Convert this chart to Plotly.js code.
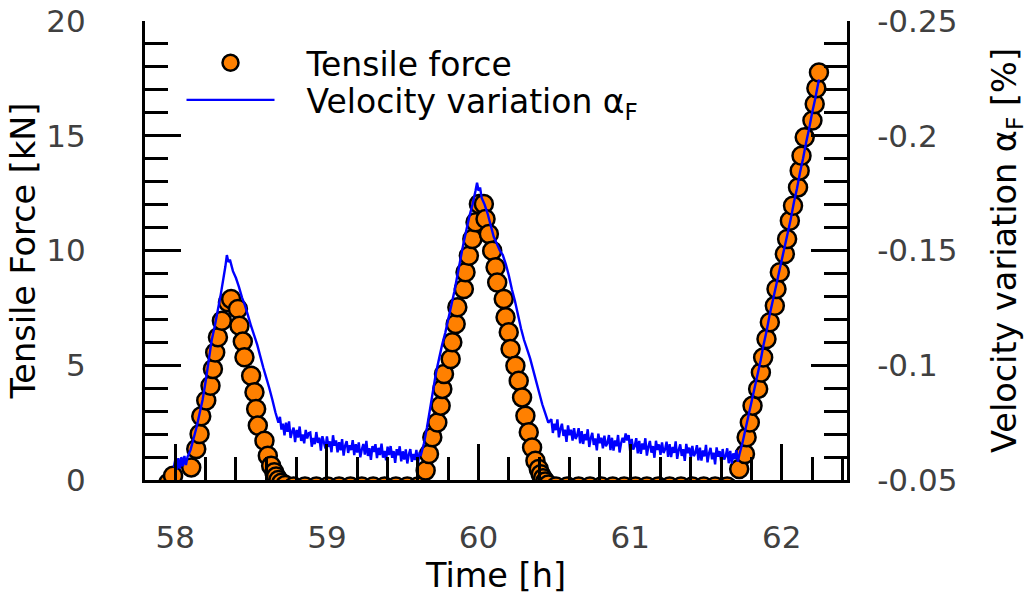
<!DOCTYPE html>
<html>
<head>
<meta charset="utf-8">
<script src="https://cdn.plot.ly/plotly-3.0.1.min.js"></script>
<style>html,body{margin:0;padding:0;background:#fff;}#chart{width:1029px;height:600px;}</style>
</head>
<body>
<div id="chart"></div>
<script>
// Tensile force markers: time [h] and force [kN]
var forceTime = [
  57.955, 57.985,
  58.105, 58.138, 58.160, 58.171, 58.204, 58.232, 58.248, 58.263, 58.281, 58.307, 58.347, 58.368,
  58.413, 58.423, 58.445, 58.456, 58.500, 58.522, 58.533, 58.544, 58.588, 58.610, 58.632, 58.653,
  58.665, 58.680, 58.700, 58.725,
  58.780, 58.855, 58.930, 59.005, 59.080, 59.155, 59.230, 59.305, 59.380, 59.455, 59.530, 59.600,
  59.651, 59.673, 59.695, 59.728, 59.750, 59.761, 59.772, 59.816, 59.827, 59.849, 59.860, 59.903,
  59.914, 59.936, 59.959, 59.980, 60.002, 60.035, 60.046, 60.068, 60.090, 60.112, 60.123, 60.166,
  60.178, 60.199, 60.211, 60.243, 60.265, 60.287, 60.309, 60.331, 60.353, 60.375, 60.397,
  60.410, 60.425, 60.440, 60.460,
  60.510, 60.585, 60.660, 60.735, 60.810, 60.885, 60.960, 61.035, 61.110, 61.185, 61.260, 61.335,
  61.410, 61.485, 61.560, 61.640,
  61.719, 61.757, 61.768, 61.789, 61.807, 61.844, 61.862, 61.877, 61.899, 61.921, 61.954, 61.965,
  61.987, 62.020, 62.035, 62.053, 62.074, 62.107, 62.118, 62.130, 62.151, 62.202, 62.217, 62.228, 62.245
];
var forceValue = [
  -0.12, 0.19,
  0.55, 1.35, 2.00, 2.78, 3.46, 4.11, 4.84, 5.56, 6.22, 6.94, 7.74, 7.89,
  7.45, 6.72, 6.03, 5.35, 4.54, 3.82, 3.09, 2.37, 1.71, 1.06, 0.62, 0.34,
  0.15, 0.00, -0.12, -0.22,
  -0.28, -0.28, -0.28, -0.28, -0.28, -0.28, -0.28, -0.28, -0.28, -0.28, -0.28, -0.28,
  0.41, 1.13, 1.86, 2.51, 3.24, 3.97, 4.62, 5.27, 6.00, 6.80, 7.53, 8.32,
  9.05, 9.77, 10.50, 11.23, 12.03, 12.03, 11.37, 10.72, 9.99, 9.27, 8.61, 7.89,
  7.09, 6.44, 5.71, 4.98, 4.33, 3.60, 2.80, 2.08, 1.42, 0.84, 0.48,
  0.25, 0.08, -0.07, -0.20,
  -0.28, -0.28, -0.28, -0.28, -0.28, -0.28, -0.28, -0.28, -0.28, -0.28, -0.28, -0.28,
  -0.28, -0.28, -0.28, -0.28,
  0.48, 1.13, 1.86, 2.51, 3.24, 3.97, 4.68, 5.34, 6.14, 6.87, 7.59, 8.32,
  9.05, 9.85, 10.50, 11.30, 11.95, 12.75, 13.48, 14.13, 14.93, 15.66, 16.38, 17.07, 17.76
];

// Velocity variation: time [h] and alpha_F [%]
var velTime = [
  57.99, 58.00, 58.01, 58.02, 58.03, 58.04, 58.05, 58.06, 58.07, 58.08,
  58.10, 58.12, 58.14, 58.16, 58.18, 58.20, 58.22, 58.24, 58.26, 58.28, 58.30, 58.32, 58.33, 58.34,
  58.35, 58.36, 58.38, 58.40, 58.42, 58.44, 58.46, 58.48, 58.50, 58.52, 58.54, 58.56, 58.58, 58.60,
  58.62, 58.64, 58.66, 58.68,
  58.69, 58.70, 58.71, 58.72, 58.73, 58.74, 58.75, 58.76, 58.77, 58.78, 58.79, 58.80, 58.81, 58.82,
  58.83, 58.84, 58.85, 58.86, 58.87, 58.88, 58.89, 58.90, 58.91, 58.92, 58.93, 58.94, 58.95, 58.96,
  58.97, 58.98, 58.99, 59.00, 59.01, 59.02, 59.03, 59.04, 59.05, 59.06, 59.07, 59.08, 59.09, 59.10,
  59.11, 59.12, 59.13, 59.14, 59.15, 59.16, 59.17, 59.18, 59.19, 59.20, 59.21, 59.22, 59.23, 59.24,
  59.25, 59.26, 59.27, 59.28, 59.29, 59.30, 59.31, 59.32, 59.33, 59.34, 59.35, 59.36, 59.37, 59.38,
  59.39, 59.40, 59.41, 59.42, 59.43, 59.44, 59.45, 59.46, 59.47, 59.48, 59.49, 59.50, 59.51, 59.52,
  59.53, 59.54, 59.55, 59.56, 59.57, 59.58, 59.59, 59.60, 59.61, 59.62,
  59.64, 59.66, 59.68, 59.70, 59.72, 59.74, 59.76, 59.78, 59.80, 59.82, 59.84, 59.86, 59.88, 59.90,
  59.92, 59.94, 59.96, 59.98, 59.99, 60.00, 60.01, 60.02, 60.04, 60.06, 60.08, 60.10, 60.12, 60.14,
  60.16, 60.18, 60.20, 60.22, 60.24, 60.26, 60.28, 60.30, 60.32, 60.34, 60.36, 60.38, 60.40, 60.42,
  60.44, 60.46,
  60.48, 60.49, 60.50, 60.51, 60.52, 60.53, 60.54, 60.55, 60.56, 60.57, 60.58, 60.59, 60.60, 60.61,
  60.62, 60.63, 60.64, 60.65, 60.66, 60.67, 60.68, 60.69, 60.70, 60.71, 60.72, 60.73, 60.74, 60.75,
  60.76, 60.77, 60.78, 60.79, 60.80, 60.81, 60.82, 60.83, 60.84, 60.85, 60.86, 60.87, 60.88, 60.89,
  60.90, 60.91, 60.92, 60.93, 60.94, 60.95, 60.96, 60.97, 60.98, 60.99, 61.00, 61.01, 61.02, 61.03,
  61.04, 61.05, 61.06, 61.07, 61.08, 61.09, 61.10, 61.11, 61.12, 61.13, 61.14, 61.15, 61.16, 61.17,
  61.18, 61.19, 61.20, 61.21, 61.22, 61.23, 61.24, 61.25, 61.26, 61.27, 61.28, 61.29, 61.30, 61.31,
  61.32, 61.33, 61.34, 61.35, 61.36, 61.37, 61.38, 61.39, 61.40, 61.41, 61.42, 61.43, 61.44, 61.45,
  61.46, 61.47, 61.48, 61.49, 61.50, 61.51, 61.52, 61.53, 61.54, 61.55, 61.56, 61.57, 61.58, 61.59,
  61.60, 61.61, 61.62, 61.63, 61.64, 61.65, 61.66, 61.67, 61.68, 61.69, 61.70, 61.71, 61.72,
  61.74, 61.76, 61.78, 61.80, 61.82, 61.84, 61.86, 61.88, 61.90, 61.92, 61.94, 61.96, 61.98, 62.00,
  62.02, 62.04, 62.06, 62.08, 62.10, 62.12, 62.14, 62.16, 62.18, 62.20, 62.22, 62.245
];
var velValue = [
  -0.0555, -0.0590, -0.0545, -0.0595, -0.0550, -0.0600, -0.0560, -0.0605, -0.0565, -0.0600,
  -0.0630, -0.0680, -0.0730, -0.0790, -0.0850, -0.0930, -0.1020, -0.1110, -0.1170, -0.1240, -0.1310, -0.1390, -0.1430, -0.1480,
  -0.1450, -0.1460, -0.1410, -0.1380, -0.1340, -0.1295, -0.1260, -0.1215, -0.1170, -0.1130, -0.1090, -0.1040, -0.0990, -0.0945,
  -0.0900, -0.0850, -0.0795, -0.0750,
  -0.0775, -0.0720, -0.0745, -0.0695, -0.0750, -0.0710, -0.0755, -0.0683, -0.0710, -0.0728, -0.0665, -0.0718, -0.0685, -0.0733,
  -0.0670, -0.0698, -0.0660, -0.0718, -0.0681, -0.0704, -0.0707, -0.0645, -0.0683, -0.0656, -0.0709, -0.0662, -0.0685, -0.0628,
  -0.0691, -0.0664, -0.0637, -0.0690, -0.0644, -0.0668, -0.0621, -0.0695, -0.0649, -0.0673, -0.0621, -0.0665, -0.0629, -0.0678,
  -0.0606, -0.0650, -0.0669, -0.0618, -0.0651, -0.0630, -0.0674, -0.0608, -0.0656, -0.0620, -0.0664, -0.0599, -0.0633, -0.0657,
  -0.0611, -0.0671, -0.0605, -0.0639, -0.0588, -0.0648, -0.0622, -0.0656, -0.0595, -0.0640, -0.0609, -0.0658, -0.0597, -0.0627,
  -0.0586, -0.0645, -0.0609, -0.0648, -0.0597, -0.0626, -0.0575, -0.0634, -0.0608, -0.0647, -0.0581, -0.0625, -0.0589, -0.0633,
  -0.0572, -0.0611, -0.0635, -0.0579, -0.0613, -0.0587, -0.0631, -0.0570, -0.0615, -0.0610,
  -0.0660, -0.0730, -0.0810, -0.0890, -0.0970, -0.1030, -0.1090, -0.1140, -0.1200, -0.1260, -0.1320, -0.1390, -0.1460, -0.1530,
  -0.1590, -0.1650, -0.1700, -0.1760, -0.1795, -0.1760, -0.1775, -0.1730, -0.1700, -0.1660, -0.1610, -0.1560, -0.1530, -0.1500,
  -0.1480, -0.1440, -0.1390, -0.1330, -0.1280, -0.1220, -0.1160, -0.1110, -0.1070, -0.1030, -0.0980, -0.0930, -0.0880, -0.0830,
  -0.0790, -0.0750,
  -0.0765, -0.0705, -0.0745, -0.0717, -0.0764, -0.0686, -0.0723, -0.0745, -0.0692, -0.0719, -0.0666, -0.0738, -0.0695, -0.0719,
  -0.0672, -0.0726, -0.0679, -0.0693, -0.0726, -0.0660, -0.0713, -0.0657, -0.0700, -0.0673, -0.0721, -0.0644, -0.0682, -0.0705,
  -0.0653, -0.0681, -0.0629, -0.0702, -0.0660, -0.0684, -0.0638, -0.0693, -0.0647, -0.0661, -0.0696, -0.0630, -0.0684, -0.0628,
  -0.0673, -0.0647, -0.0696, -0.0620, -0.0660, -0.0684, -0.0663, -0.0703, -0.0672, -0.0696, -0.0625, -0.0679, -0.0633, -0.0648,
  -0.0682, -0.0616, -0.0670, -0.0614, -0.0659, -0.0633, -0.0682, -0.0606, -0.0645, -0.0670, -0.0619, -0.0648, -0.0597, -0.0671,
  -0.0631, -0.0655, -0.0610, -0.0664, -0.0618, -0.0633, -0.0667, -0.0601, -0.0656, -0.0600, -0.0644, -0.0618, -0.0668, -0.0592,
  -0.0631, -0.0655, -0.0605, -0.0634, -0.0583, -0.0657, -0.0617, -0.0641, -0.0595, -0.0649, -0.0604, -0.0618, -0.0652, -0.0586,
  -0.0641, -0.0585, -0.0629, -0.0603, -0.0653, -0.0577, -0.0616, -0.0640, -0.0590, -0.0619, -0.0568, -0.0642, -0.0602, -0.0626,
  -0.0580, -0.0635, -0.0589, -0.0604, -0.0638, -0.0573, -0.0627, -0.0572, -0.0616, -0.0591, -0.0630, -0.0580, -0.0610,
  -0.0660, -0.0720, -0.0780, -0.0840, -0.0900, -0.0960, -0.1020, -0.1090, -0.1150, -0.1220, -0.1280, -0.1340, -0.1400, -0.1460,
  -0.1520, -0.1580, -0.1640, -0.1710, -0.1770, -0.1840, -0.1900, -0.1970, -0.2030, -0.2100, -0.2160, -0.2245
];

var xTickVals = [58, 59, 60, 61, 62];
var yTickVals = [0, 5, 10, 15, 20];
var y2TickVals = [-0.05, -0.1, -0.15, -0.2, -0.25];
var y2TickText = ['-0.05', '-0.1', '-0.15', '-0.2', '-0.25'];

var GAP = '\u2002\u00a0';
var FONT = 'DejaVu Sans, sans-serif';

var traces = [
  {
    x: forceTime, y: forceValue, type: 'scatter', mode: 'markers',
    name: GAP + 'Tensile force', legend: 'legend',
    marker: {size: 18, color: '#ff8000', line: {color: '#000000', width: 2.5}},
    xaxis: 'x', yaxis: 'y'
  },
  {
    x: velTime, y: velValue, type: 'scatter', mode: 'lines',
    name: GAP + 'Velocity variation α<sub>F</sub>', legend: 'legend2',
    line: {color: '#0000ff', width: 2.4, simplify: false},
    xaxis: 'x', yaxis: 'y2'
  }
];

var axisCommon = {
  showgrid: false, zeroline: false, showline: true, linecolor: '#000', linewidth: 3,
  ticks: 'inside', ticklen: 36, tickwidth: 3, tickcolor: '#000',
  tickfont: {family: FONT, size: 31, color: '#404040'}
};

var legendCommon = {
  xanchor: 'left', yanchor: 'top',
  bgcolor: 'rgba(0,0,0,0)', borderwidth: 0,
  font: {family: FONT, size: 33, color: '#000'},
  itemwidth: 88
};

var layout = {
  width: 1029, height: 600,
  margin: {l: 145, r: 182, t: 21, b: 120, pad: 0},
  paper_bgcolor: '#fff', plot_bgcolor: '#fff',
  font: {family: FONT, size: 30, color: '#000'},
  showlegend: true,
  legend: Object.assign({}, legendCommon, {x: 0.052, y: 0.97}),
  legend2: Object.assign({}, legendCommon, {x: 0.052, y: 0.889}),
  xaxis: Object.assign({}, axisCommon, {
    range: [57.8, 62.43], tickmode: 'array', tickvals: xTickVals,
    ticklabelstandoff: 28,
    minor: {tickmode: 'linear', tick0: 57.8, dtick: 0.2, ticks: 'inside', ticklen: 23, tickwidth: 3, tickcolor: '#000'},
    title: {text: 'Time [h]', font: {family: FONT, size: 33.5, color: '#000'}, standoff: 10}
  }),
  yaxis: Object.assign({}, axisCommon, {
    range: [0, 20], tickmode: 'array', tickvals: yTickVals,
    ticklabelstandoff: 50,
    minor: {tickmode: 'linear', tick0: 0, dtick: 1, ticks: 'inside', ticklen: 23, tickwidth: 3, tickcolor: '#000'},
    title: {text: 'Tensile Force [kN]', font: {family: FONT, size: 33.5, color: '#000'}, standoff: 1}
  }),
  yaxis2: Object.assign({}, axisCommon, {
    overlaying: 'y', side: 'right',
    range: [-0.05, -0.25], tickmode: 'array', tickvals: y2TickVals, ticktext: y2TickText,
    ticklabelstandoff: 21,
    minor: {tickmode: 'linear', tick0: -0.05, dtick: 0.01, ticks: 'inside', ticklen: 23, tickwidth: 3, tickcolor: '#000'},
    title: {text: 'Velocity variation α<sub>F</sub> [%]', font: {family: FONT, size: 33.5, color: '#000'}, standoff: 50}
  })
};

Plotly.newPlot('chart', traces, layout, {staticPlot: true, displayModeBar: false});
</script>
</body>
</html>
